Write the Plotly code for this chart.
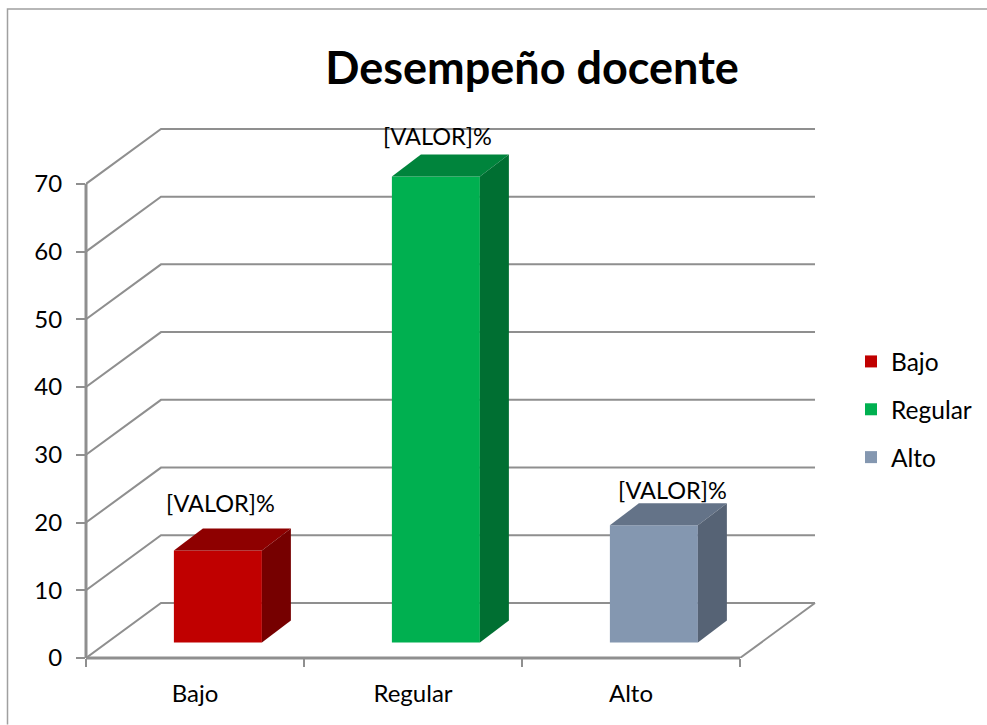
import plotly.graph_objects as go

# Data
categories = ["Bajo", "Regular", "Alto"]
values = [13.6, 68.8, 17.3]
y_ticks = [0, 10, 20, 30, 40, 50, 60, 70]
data_label = "[VALOR]%"
title_text = "Desempeño docente"

# Style
front = ["#C00000", "#00B050", "#8497B0"]
top = ["#8E0000", "#00843C", "#647388"]
side = ["#760000", "#006F32", "#566375"]
GRID = "#8F8F8F"
FONT = "Lato"
TXT = "#000000"

# Oblique-projection geometry, in axis units
W, H = 987, 725
L, R, T, B = 86, 826, 118, 658.5
px_x = 218.0
px_y = 6.78
wall_dx, wall_dy = 75 / px_x, 55 / px_y
bar_w = 88 / px_x
bar_dx, bar_dy = 29 / px_x, 22 / px_y
bar_base = 15.5 / px_y
bar_shift = 0.105
centers = [i + 0.5 + bar_shift for i in range(len(categories))]

fig = go.Figure()
shapes = []


def seg(pts, xref="x", yref="y", width=2):
    path = "M" + "L".join(f"{a},{b}" for a, b in pts)
    return dict(type="path", path=path, xref=xref, yref=yref, layer="below",
                line=dict(color=GRID, width=width))


n = len(categories)
for t in y_ticks:
    shapes.append(seg([(0, t), (wall_dx, t + wall_dy), (n + wall_dx, t + wall_dy)]))
shapes.append(seg([(n, 0), (n + wall_dx, wall_dy)]))
shapes.append(dict(type="line", xref="paper", yref="y", x0=0, x1=0, y0=0, y1=y_ticks[-1],
                   layer="below", line=dict(color=GRID, width=3)))
shapes.append(dict(type="line", xref="x", yref="paper", x0=0, x1=n, y0=0, y1=0,
                   layer="below", line=dict(color=GRID, width=3)))
# Outer frame (cropped on the right and bottom in the reference)
fx = lambda p: (p - L) / (R - L)
fy = lambda p: (B - p) / (B - T)
shapes.append(dict(type="path", xref="paper", yref="paper", layer="below",
                   path=f"M{fx(7.5)},{fy(725)}L{fx(7.5)},{fy(9)}L{fx(987)},{fy(9)}",
                   line=dict(color="#A0A0A0", width=1.5)))

for i, cat in enumerate(categories):
    fig.add_trace(go.Bar(x=[centers[i]], y=[values[i]], base=bar_base, width=bar_w, name=cat,
                         legendgroup=cat, marker=dict(color=front[i], line=dict(width=0)),
                         hoverinfo="skip"))
    xl, xr = centers[i] - bar_w / 2, centers[i] + bar_w / 2
    y0, y1 = bar_base, bar_base + values[i]
    fig.add_trace(go.Scatter(
        x=[xl, xr, xr + bar_dx, xl + bar_dx, xl], y=[y1, y1, y1 + bar_dy, y1 + bar_dy, y1],
        mode="lines", fill="toself", fillcolor=top[i], line=dict(width=0),
        showlegend=False, hoverinfo="skip"))
    fig.add_trace(go.Scatter(
        x=[xr, xr + bar_dx, xr + bar_dx, xr, xr], y=[y0, y0 + bar_dy, y1 + bar_dy, y1, y0],
        mode="lines", fill="toself", fillcolor=side[i], line=dict(width=0),
        showlegend=False, hoverinfo="skip"))

label_dx = [3, 2, 19]
label_dy = [-47, -40, -35]
annotations = [
    dict(x=centers[i], y=bar_base + values[i], xref="x", yref="y", text=data_label, showarrow=False,
         xshift=label_dx[i], yshift=-label_dy[i], font=dict(family=FONT, size=23.5, color=TXT),
         xanchor="center", yanchor="middle")
    for i in range(n)
]

fig.update_layout(
    width=W, height=H, autosize=False,
    margin=dict(l=L, r=W - R, t=T, b=H - B),
    paper_bgcolor="white", plot_bgcolor="white",
    barmode="overlay", shapes=shapes, annotations=annotations,
    title=dict(text=f"<b>{title_text}</b>", x=532 / W, xanchor="center", xref="container",
               y=1 - 68 / H, yanchor="middle", font=dict(family=FONT, size=45, color=TXT)),
    font=dict(family=FONT, size=24, color=TXT),
    legend=dict(xref="container", yref="container", x=851 / W, xanchor="left", y=1 - 339 / H, yanchor="top",
                tracegroupgap=13, font=dict(family=FONT, size=24.5, color=TXT),
                bgcolor="rgba(0,0,0,0)", itemclick=False, itemdoubleclick=False),
    xaxis=dict(range=[0, (R - L) / px_x], tickmode="array",
               tickvals=[i + 0.5 for i in range(n)], ticktext=categories,
               ticks="", showgrid=False, zeroline=False, showline=False,
               ticklabelstandoff=19, tickfont=dict(family=FONT, size=24, color=TXT),
               minor=dict(tickvals=list(range(n + 1)), ticks="outside", ticklen=8,
                          tickwidth=2, tickcolor=GRID, showgrid=False)),
    yaxis=dict(range=[0, (B - T) / px_y], tickmode="array", tickvals=y_ticks,
               ticks="outside", ticklen=9, tickwidth=2, tickcolor=GRID,
               showgrid=False, zeroline=False, showline=False, ticklabelstandoff=9,
               tickfont=dict(family=FONT, size=24, color=TXT)),
)

fig.write_html("out.html", config=dict(displayModeBar=False),
               post_script="document.body.style.margin='0';")
